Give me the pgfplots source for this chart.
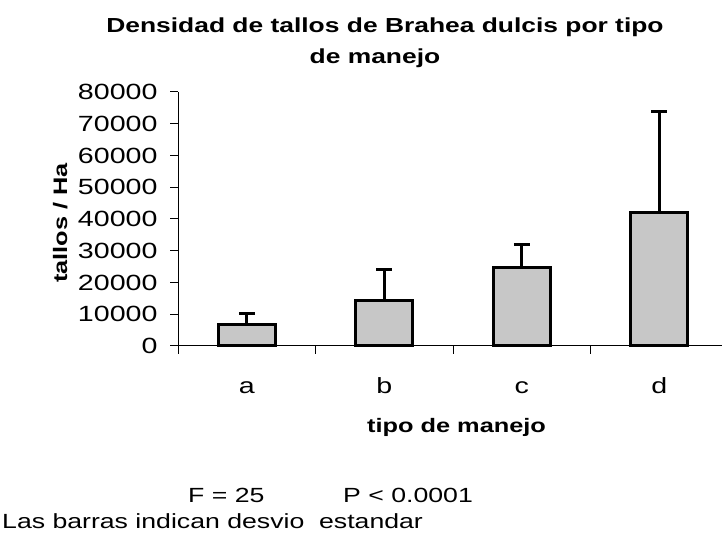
\documentclass[border=0pt]{standalone}
\usepackage{fontspec}
\setmainfont{Liberation Sans}[FakeStretch=1.3]
\usepackage{pgfplots}
\pgfplotsset{compat=1.18}
\begin{document}
\begin{tikzpicture}[x=1bp,y=1bp]
\path[use as bounding box] (0,0) rectangle (723,544);
\begin{axis}[
  at={(178bp,198bp)}, anchor=south west,
  scale only axis, width=544bp, height=254bp,
  xmin=-0.5, xmax=3.456, ymin=0, ymax=80000,
  axis x line*=bottom, axis y line*=left,
  axis line style={line width=1bp, black},
  tick align=outside,
  ytick={0,10000,...,80000},
  scaled y ticks=false,
  /pgf/number format/1000 sep={},
  /pgf/number format/assume math mode=true,
  major tick length=8bp, minor tick length=8bp,
  tick style={line width=1bp, black},
  xtick={0,1,2,3}, xticklabels={a,b,c,d},
  minor xtick={-0.5,0.5,1.5,2.5},
  major x tick style={draw=none},
  tick label style={font=\fontsize{22bp}{26bp}\selectfont},
  yticklabel style={font=\fontsize{22bp}{26bp}\selectfont, xshift=-9bp},
  xticklabel style={font=\fontsize{22bp}{26bp}\selectfont, anchor=base, yshift=-40bp},
  xlabel={tipo de manejo},
  ylabel={tallos / Ha},
  xlabel style={at={(axis description cs:0.512,-0.339)}, anchor=base, font=\fontsize{19.5bp}{23bp}\selectfont\bfseries},
  ylabel style={at={(axis description cs:-0.204,0.484)}, anchor=base, font=\fontsize{19.5bp}{23bp}\selectfont\bfseries},
  ybar, bar width=57bp,
  clip=false,
]
\addplot[fill=black!22, draw=black, line width=3bp,
  error bars/.cd, y dir=plus, y explicit,
  error bar style={line width=3bp, black},
  error mark options={rotate=90, mark size=8bp, line width=3bp, black}]
coordinates {
  (0,6900) +- (0,3400)
  (1,14300) +- (0,9700)
  (2,24800) +- (0,7300)
  (3,41900) +- (0,31800)
};
\end{axis}
\node[anchor=base, font=\fontsize{20.3bp}{24bp}\selectfont\bfseries] at (385,511) {Densidad de tallos de Brahea dulcis por tipo};
\node[anchor=base, font=\fontsize{20.3bp}{24bp}\selectfont\bfseries] at (375,480) {de manejo};
\node[anchor=base west, inner sep=0pt, font=\fontsize{20.5bp}{24bp}\selectfont] at (188,41) {F = 25};
\node[anchor=base west, inner sep=0pt, font=\fontsize{20.5bp}{24bp}\selectfont] at (343,41) {P < 0.0001};
\node[anchor=base west, inner sep=0pt, font=\fontsize{20.5bp}{24bp}\selectfont] at (2,15) {Las barras indican desvio\ \ estandar};
\end{tikzpicture}
\end{document}
